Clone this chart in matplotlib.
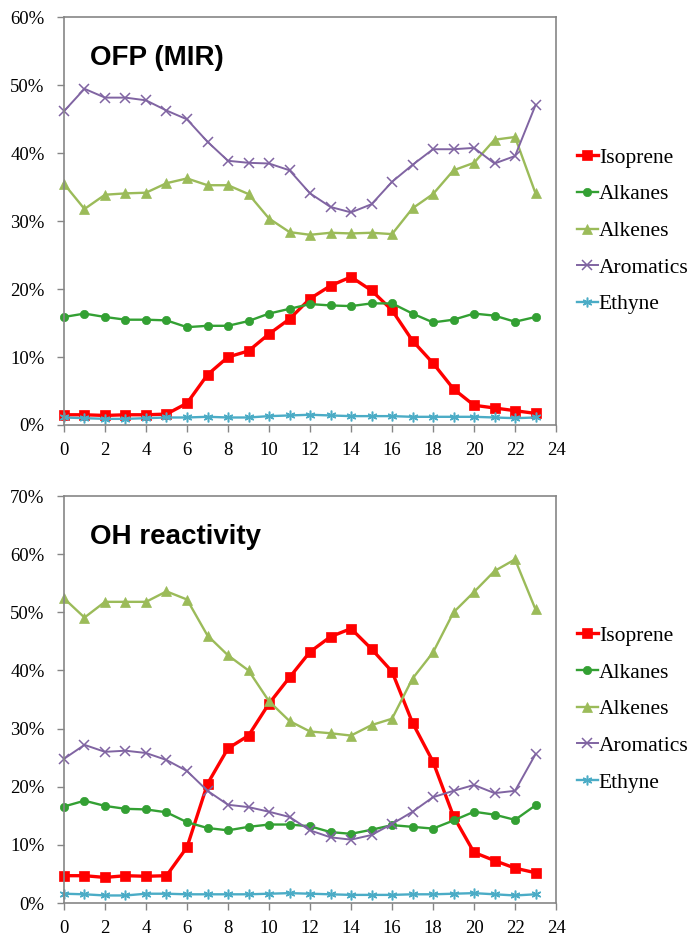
import numpy as np
import matplotlib
matplotlib.use("Agg")
from matplotlib import pyplot as plt
from matplotlib.ticker import PercentFormatter

hours = list(range(24))

# OFP (MIR) shares, %
ofp_isoprene = [1.5, 1.5, 1.4, 1.5, 1.5, 1.6, 3.2, 7.4, 10.0, 10.9, 13.4, 15.6,
                18.6, 20.5, 21.8, 19.8, 16.9, 12.4, 9.1, 5.3, 2.9, 2.5, 2.1, 1.7]
ofp_alkanes = [15.9, 16.4, 15.9, 15.5, 15.5, 15.4, 14.4, 14.6, 14.6, 15.3, 16.4, 17.1,
               17.8, 17.6, 17.5, 17.9, 17.9, 16.4, 15.1, 15.5, 16.4, 16.1, 15.2, 15.9]
ofp_alkenes = [35.5, 31.8, 33.9, 34.1, 34.2, 35.6, 36.3, 35.3, 35.3, 34.0, 30.4, 28.4,
               28.0, 28.3, 28.2, 28.3, 28.1, 31.9, 34.0, 37.5, 38.6, 42.0, 42.4, 34.1]
ofp_aromatics = [46.2, 49.5, 48.2, 48.2, 47.8, 46.3, 45.0, 41.7, 38.9, 38.6, 38.5, 37.5,
                 34.1, 32.1, 31.3, 32.5, 35.8, 38.3, 40.6, 40.6, 40.8, 38.5, 39.6, 47.1]
ofp_ethyne = [1.1, 1.0, 0.9, 0.9, 1.0, 1.1, 1.1, 1.2, 1.1, 1.1, 1.3, 1.4,
              1.5, 1.4, 1.3, 1.3, 1.3, 1.2, 1.2, 1.2, 1.2, 1.1, 1.0, 1.1]

# OH reactivity shares, %
oh_isoprene = [4.7, 4.7, 4.4, 4.7, 4.6, 4.7, 9.6, 20.5, 26.6, 28.8, 34.3, 38.8,
               43.2, 45.8, 47.2, 43.7, 39.8, 31.0, 24.3, 14.9, 8.7, 7.3, 6.0, 5.2]
oh_alkanes = [16.6, 17.6, 16.7, 16.2, 16.1, 15.6, 13.9, 12.9, 12.5, 13.1, 13.5, 13.5,
              13.2, 12.2, 11.9, 12.6, 13.4, 13.1, 12.8, 14.2, 15.7, 15.2, 14.3, 16.8]
oh_alkenes = [52.4, 49.1, 51.8, 51.8, 51.8, 53.6, 52.2, 46.0, 42.6, 40.0, 34.7, 31.3,
              29.5, 29.2, 28.8, 30.6, 31.7, 38.6, 43.1, 50.0, 53.5, 57.1, 59.1, 50.5]
oh_aromatics = [24.8, 27.2, 26.0, 26.2, 25.8, 24.6, 22.7, 19.3, 16.9, 16.5, 15.7, 14.8,
                12.5, 11.3, 10.9, 11.7, 13.6, 15.7, 18.2, 19.3, 20.3, 18.9, 19.3, 25.6]
oh_ethyne = [1.6, 1.5, 1.3, 1.3, 1.6, 1.6, 1.5, 1.5, 1.5, 1.5, 1.6, 1.7,
             1.6, 1.5, 1.4, 1.4, 1.4, 1.5, 1.5, 1.6, 1.7, 1.5, 1.3, 1.5]

names = ["Isoprene", "Alkanes", "Alkenes", "Aromatics", "Ethyne"]
colors = ["#FF0000", "#33A033", "#9BBB59", "#8064A2", "#4BACC6"]
markers = ["s", "o", "^", "x", (6, 2, 0)]
msizes = [7, 6, 7, 7, 7]
lwidths = [2.4, 1.7, 1.7, 1.4, 1.7]

serif = "Liberation Serif"
grey = "#868686"

fig = plt.figure(figsize=(6.94, 9.35), dpi=100)
ax1 = fig.add_axes([0.0922, 0.5455, 0.709, 0.4358])
ax2 = fig.add_axes([0.0922, 0.0342, 0.709, 0.4353])

panels = [
    (ax1, [ofp_isoprene, ofp_alkanes, ofp_alkenes, ofp_aromatics, ofp_ethyne], 60, "OFP (MIR)"),
    (ax2, [oh_isoprene, oh_alkanes, oh_alkenes, oh_aromatics, oh_ethyne], 70, "OH reactivity"),
]

for ax, series, ymax, title in panels:
    for vals, name, c, m, ms, lw in zip(series, names, colors, markers, msizes, lwidths):
        thin = m == "x" or isinstance(m, tuple)
        ax.plot(hours, vals, color=c, marker=m, markersize=ms, linewidth=lw,
                markeredgewidth=1.1 if thin else 0.5,
                markeredgecolor=c, label=name, clip_on=False)
    ax.set_xlim(0, 24)
    ax.set_ylim(0, ymax)
    ax.set_xticks(range(0, 25, 2))
    ax.set_yticks(range(0, ymax + 1, 10))
    ax.yaxis.set_major_formatter(PercentFormatter(decimals=0))
    for s in ax.spines.values():
        s.set_color(grey)
        s.set_linewidth(1.2)
    ax.tick_params(direction="out", length=5, color=grey, width=1,
                   labelsize=13.5)
    ax.tick_params(axis="x", pad=7)
    ax.tick_params(axis="y", pad=9)
    for lab in ax.get_xticklabels() + ax.get_yticklabels():
        lab.set_fontfamily(serif)
    ax.text(0.052, 0.90, title, transform=ax.transAxes, fontsize=20,
            fontweight="bold", family="Liberation Sans", va="center", ha="left")
    ax.legend(loc="center left", bbox_to_anchor=(1.043, 0.476), frameon=False,
              prop={"family": serif, "size": 15.5}, handlelength=0.95,
              handletextpad=0.05, labelspacing=0.77, borderaxespad=0, borderpad=0)

fig.savefig("out.png", dpi=100)
